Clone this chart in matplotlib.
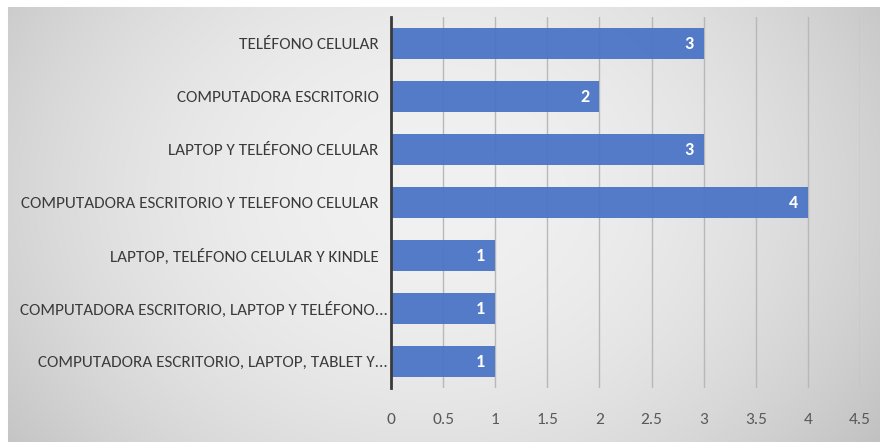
import numpy as np
import matplotlib
matplotlib.use("Agg")
from matplotlib import pyplot as plt
from matplotlib.transforms import ScaledTranslation

categorias = [
    "TELÉFONO CELULAR",
    "COMPUTADORA ESCRITORIO",
    "LAPTOP Y TELÉFONO CELULAR",
    "COMPUTADORA ESCRITORIO Y TELEFONO CELULAR",
    "LAPTOP, TELÉFONO CELULAR Y KINDLE",
    "COMPUTADORA ESCRITORIO, LAPTOP Y TELÉFONO...",
    "COMPUTADORA ESCRITORIO, LAPTOP, TABLET Y...",
]
valores = [3, 2, 3, 4, 1, 1, 1]
ticks_x = [0, 0.5, 1, 1.5, 2, 2.5, 3, 3.5, 4, 4.5]

plt.rcParams['font.family'] = ['Carlito', 'DejaVu Sans']

fig = plt.figure(figsize=(8.8, 4.42), dpi=100)

# fondo gris con degradado radial
bg = fig.add_axes([0, 0, 1, 1], zorder=-5)
h, w = 442, 880
yy, xx = np.mgrid[0:h, 0:w]
r = np.sqrt(((xx - 430) / 520.0) ** 2 + ((yy - 190) / 420.0) ** 2)
img = np.clip(0.945 - 0.17 * r ** 2, 0, 1)
rgb = np.dstack([img, img, img])
rgb[:7, :, :] = 1.0
rgb[:, :8, :] = 1.0
bg.imshow(rgb, aspect='auto', interpolation='bilinear')
bg.axis('off')

ax = fig.add_axes([391 / 880, 54 / 442, 469 / 880, 371 / 442])
ax.patch.set_alpha(0)

y = np.arange(len(categorias))
barras = ax.barh(y, valores, height=0.57, color='#4a74c6', alpha=0.94, zorder=3)
ax.set_ylim(len(categorias) - 0.5, -0.5)
ax.set_xlim(0, 4.5)
ax.set_yticks(y)
ax.set_yticklabels(categorias, fontsize=12.3, color='#3a3a3a')
ax.set_xticks(ticks_x)
ax.set_xticklabels([f"{t:g}" for t in ticks_x], fontsize=12.5, color='#595959')
ax.tick_params(axis='both', length=0)
ax.tick_params(axis='y', pad=9)
ax.tick_params(axis='x', pad=18)

# las etiquetas recortadas quedan un poco mas cerca del eje
for lbl in ax.get_yticklabels()[5:]:
    lbl.set_transform(lbl.get_transform() + ScaledTranslation(9 / 100, 0, fig.dpi_scale_trans))

ax.grid(axis='x', color='#b8b8b8', linewidth=1, zorder=1)
ax.set_axisbelow(True)
for s in ['top', 'right', 'bottom']:
    ax.spines[s].set_visible(False)
ax.spines['left'].set_color('#3a3a3a')
ax.spines['left'].set_linewidth(2)
ax.spines['left'].set_zorder(4)

for b, v in zip(barras, valores):
    ax.text(v - 0.14, b.get_y() + b.get_height() / 2, str(v), ha='center', va='center',
            color='white', fontsize=13, fontweight='bold', zorder=5)

fig.savefig("out.png", dpi=100)
